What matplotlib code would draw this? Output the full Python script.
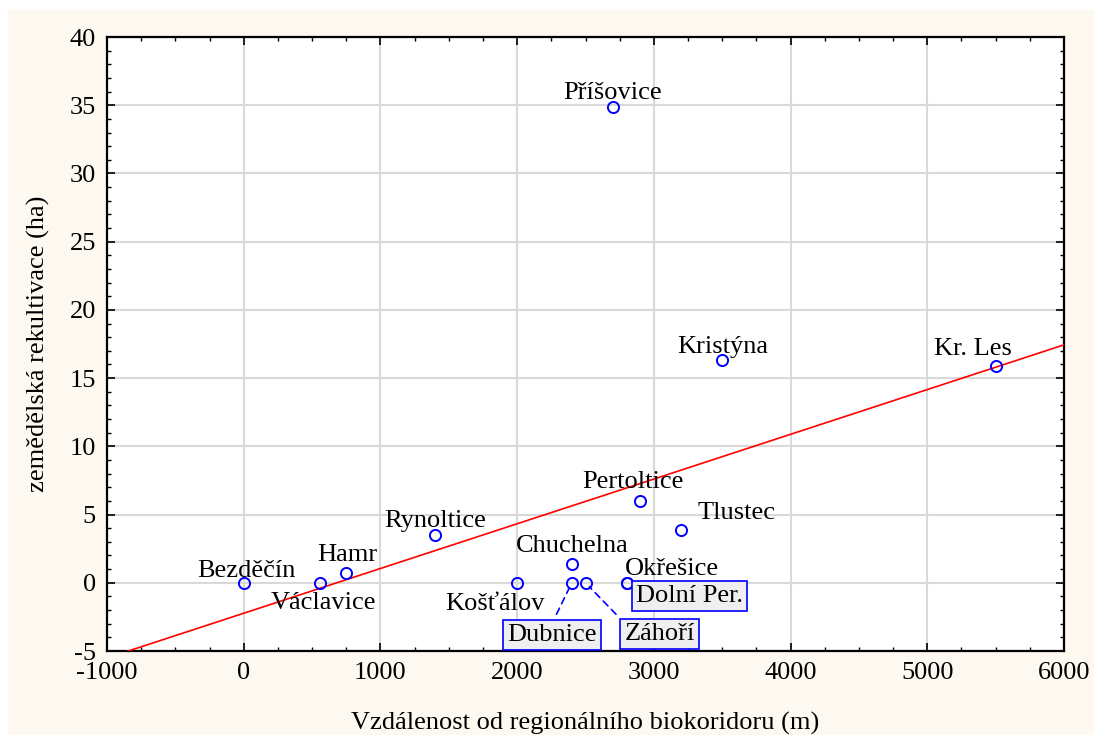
import matplotlib.pyplot as plt
import matplotlib.patches as patches
import numpy as np

# lokality: vzdálenost od biokoridoru (m) a zemědělská rekultivace (ha)
names = ['Bezděčín', 'Václavice', 'Hamr', 'Rynoltice', 'Košťálov', 'Chuchelna',
         'Dubnice', 'Záhoří', 'Okřešice', 'Dolní Per.', 'Pertoltice', 'Tlustec',
         'Kristýna', 'Příšovice', 'Kr. Les']
dist = [0, 560, 750, 1400, 2000, 2400, 2400, 2500, 2800, 2800, 2900, 3200, 3500, 2700, 5500]
area = [0, 0, 0.7, 3.5, 0, 1.4, 0, 0, 0, 0, 6.0, 3.9, 16.3, 34.9, 15.9]

# posun popisku od bodu v pixelech
offsets = {'Bezděčín': (3, 12), 'Václavice': (3, -20), 'Hamr': (1, 18),
           'Rynoltice': (0, 14), 'Košťálov': (-22, -21), 'Chuchelna': (0, 18),
           'Dubnice': (-20, -52), 'Záhoří': (74, -51), 'Okřešice': (45, 14),
           'Dolní Per.': (63, -13), 'Pertoltice': (-7, 19), 'Tlustec': (55, 17),
           'Kristýna': (1, 13), 'Příšovice': (0, 14), 'Kr. Les': (-23, 17)}
boxed = ['Dubnice', 'Záhoří', 'Dolní Per.']
leader_rel = {'Dubnice': (0.5, 1.0), 'Záhoří': (0.0, 1.0)}

plt.rcParams['font.family'] = ['Liberation Serif', 'DejaVu Serif']
plt.rcParams['axes.unicode_minus'] = False
fs = 19

fig = plt.figure(figsize=(10.94, 7.35), dpi=100)
fig.patch.set_facecolor('white')
fig.patches.append(patches.Rectangle((8 / 1094, 0), 1, 1 - 10 / 735, transform=fig.transFigure,
                                     facecolor='#fdf9f0', edgecolor='none', zorder=-10))
ax = fig.add_axes([107 / 1094, 84 / 735, 957 / 1094, 614 / 735])
ax.set_facecolor('white')

# regresní přímka
k, q = np.polyfit(dist, area, 1)
xl = np.array([-1000, 6000])
ax.plot(xl, k * xl + q, color='red', lw=1.2, zorder=3)

ax.plot(dist, area, 'o', mfc='none', mec='blue', mew=1.4, ms=8, zorder=4)

for n, x, y in zip(names, dist, area):
    dx, dy = offsets[n]
    kw = dict(fontsize=fs, ha='center', va='center', zorder=5)
    if n in boxed:
        kw['bbox'] = dict(boxstyle='square,pad=0.15', fc='#efefef', ec='blue', lw=1.2)
    if n in leader_rel:
        kw['arrowprops'] = dict(arrowstyle='-', ls=(0, (4, 3)), color='blue', lw=1.2,
                                relpos=leader_rel[n], shrinkA=4, shrinkB=4)
    ax.annotate(n, (x, y), xytext=(dx, dy), textcoords='offset pixels', **kw)

ax.set_xlim(-1000, 6000)
ax.set_ylim(-5, 40)
ax.set_xticks(np.arange(-1000, 6001, 1000))
ax.set_yticks(np.arange(-5, 41, 5))
ax.set_xticks(np.arange(-1000, 6001, 250), minor=True)
ax.set_yticks(np.arange(-5, 41, 1), minor=True)
ax.tick_params(which='major', direction='in', length=6, width=1.2, labelsize=fs,
               top=True, right=True, pad=8)
ax.tick_params(which='minor', direction='in', length=3, width=1, top=True, right=True)
ax.grid(True, which='major', color='#d9d9d9', lw=1.5)
ax.set_axisbelow(True)
for s in ax.spines.values():
    s.set_linewidth(1.6)

ax.set_xlabel('Vzdálenost od regionálního biokoridoru (m)', fontsize=fs, labelpad=20)
ax.set_ylabel('zemědělská rekultivace (ha)', fontsize=fs, labelpad=14)

fig.savefig('out.png', dpi=100)
